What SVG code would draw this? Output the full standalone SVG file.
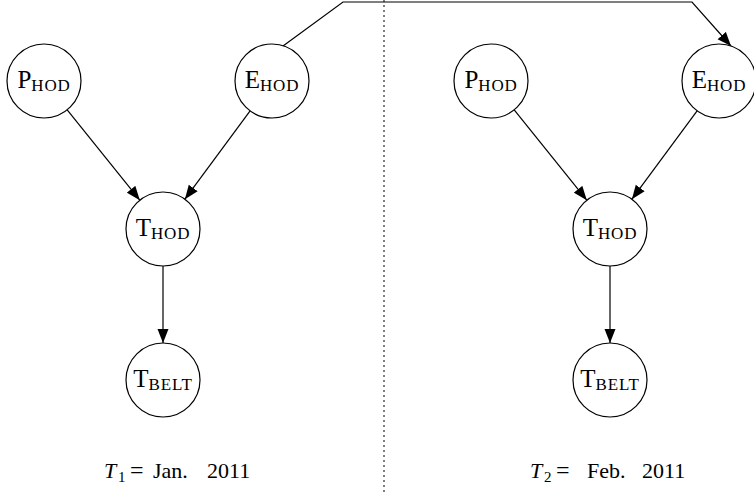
<svg xmlns="http://www.w3.org/2000/svg" width="754" height="494" viewBox="0 0 754 494">
<style>
.node circle{fill:#fff;stroke:#000;stroke-width:1.2}
.lbl{font-family:"Liberation Serif","Times New Roman",serif;font-size:25px;fill:#000}
.sub{font-size:17px;letter-spacing:0.8px}
.edge{fill:none;stroke:#000;stroke-width:1.2}
.cap{font-family:"Liberation Serif","Times New Roman",serif;font-size:22px;fill:#000}
</style>
<defs>
<marker id="ah" markerUnits="userSpaceOnUse" markerWidth="16" markerHeight="12" refX="14" refY="5.5" orient="auto" viewBox="0 0 16 11">
<path d="M0,0 L14,5.5 L0,11 Z" fill="#000"/>
</marker>
</defs>
<line x1="384" y1="0" x2="384" y2="494" stroke="#000" stroke-width="1" stroke-dasharray="2,3"/>
<g id="edges">
<path class="edge" d="M67.2,109.8 L139.8,200.2" marker-end="url(#ah)"/>
<path class="edge" d="M250.1,110.8 L184.9,199.2" marker-end="url(#ah)"/>
<path class="edge" d="M163,266 L163,343" marker-end="url(#ah)"/>
<path class="edge" d="M514.2,109.8 L586.8,200.2" marker-end="url(#ah)"/>
<path class="edge" d="M697.1,110.8 L631.9,199.2" marker-end="url(#ah)"/>
<path class="edge" d="M610,266 L610,343" marker-end="url(#ah)"/>
<path class="edge" d="M283,46 L343,2 L692,2 L731,46" marker-end="url(#ah)"/>
</g>
<g id="p1" class="node"><circle cx="44" cy="81" r="37"/><text class="lbl" x="44" y="88" text-anchor="middle">P<tspan class="sub" dy="3">HOD</tspan></text></g>
<g id="e1" class="node"><circle cx="272" cy="81" r="37"/><text class="lbl" x="272" y="88" text-anchor="middle">E<tspan class="sub" dy="3">HOD</tspan></text></g>
<g id="t1" class="node"><circle cx="163" cy="229" r="37"/><text class="lbl" x="163" y="236" text-anchor="middle">T<tspan class="sub" dy="3">HOD</tspan></text></g>
<g id="b1" class="node"><circle cx="163" cy="380" r="37"/><text class="lbl" x="163" y="387" text-anchor="middle">T<tspan class="sub" dy="3">BELT</tspan></text></g>
<g id="p2" class="node"><circle cx="491" cy="81" r="37"/><text class="lbl" x="491" y="88" text-anchor="middle">P<tspan class="sub" dy="3">HOD</tspan></text></g>
<g id="e2" class="node"><circle cx="719" cy="81" r="37"/><text class="lbl" x="719" y="88" text-anchor="middle">E<tspan class="sub" dy="3">HOD</tspan></text></g>
<g id="t2" class="node"><circle cx="610" cy="229" r="37"/><text class="lbl" x="610" y="236" text-anchor="middle">T<tspan class="sub" dy="3">HOD</tspan></text></g>
<g id="b2" class="node"><circle cx="610" cy="380" r="37"/><text class="lbl" x="610" y="387" text-anchor="middle">T<tspan class="sub" dy="3">BELT</tspan></text></g>
<text class="cap" y="478"><tspan x="104" font-style="italic">T</tspan><tspan x="118" y="482" font-size="15">1</tspan><tspan x="130" y="478" font-size="24">=</tspan><tspan x="153">Jan.</tspan><tspan x="207">2011</tspan></text>
<text class="cap" y="478"><tspan x="530" font-style="italic">T</tspan><tspan x="544" y="482" font-size="15">2</tspan><tspan x="556" y="478" font-size="24">=</tspan><tspan x="587">Feb.</tspan><tspan x="642">2011</tspan></text>
</svg>
